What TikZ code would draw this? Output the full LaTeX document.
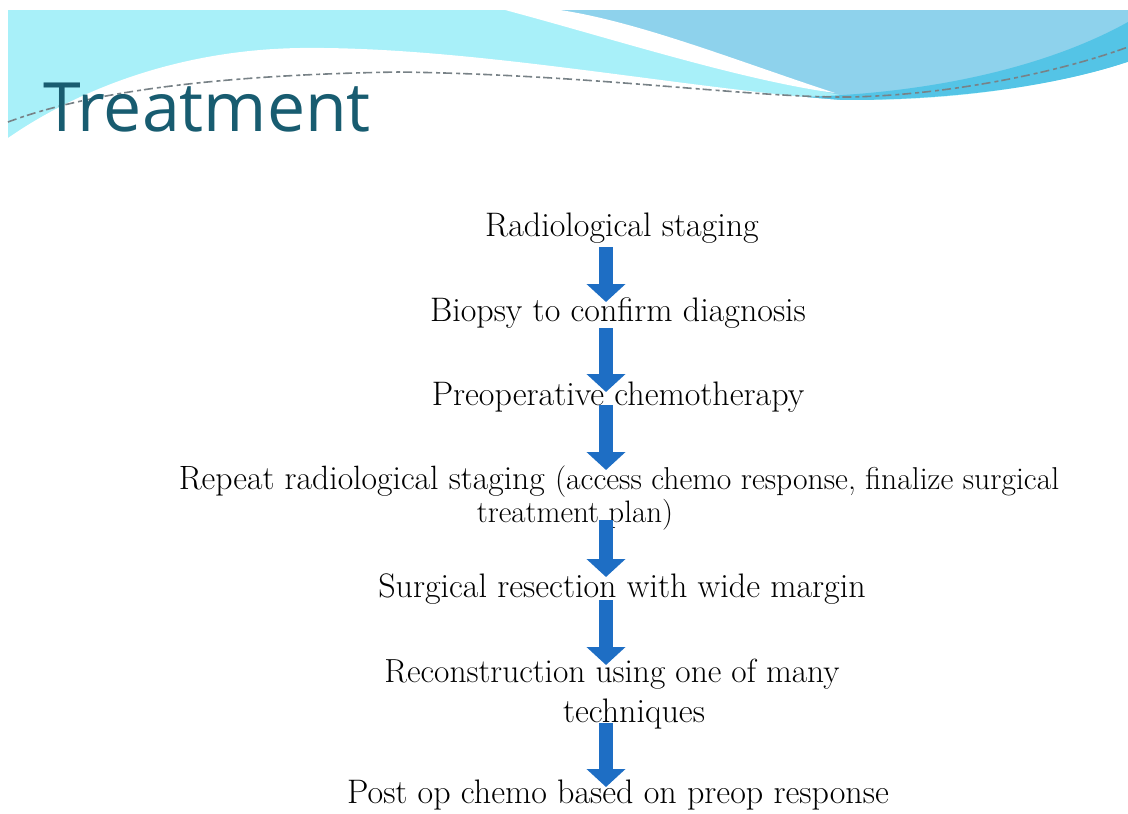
\documentclass[tikz,border=0pt]{standalone}
\usepackage{fontspec}
\newfontfamily\titlefont{Open Sans}
\usetikzlibrary{arrows.meta}
\definecolor{cyanlight}{RGB}{168,240,249}
\definecolor{skyblue}{RGB}{142,210,236}
\definecolor{swoosh}{RGB}{84,196,230}
\definecolor{titlecol}{RGB}{24,92,112}
\definecolor{arrowblue}{RGB}{30,110,196}
\definecolor{dashgray}{RGB}{120,130,135}
\tikzset{
  steptext/.style={anchor=base, inner sep=0pt, font=\fontsize{34}{40}\selectfont},
  blk/.style={draw=arrowblue, line width=14pt, -{Triangle[width=38pt,length=18pt]}},
}
\begin{document}
\begin{tikzpicture}[x=1pt,y=-1pt]
\useasboundingbox (0,0) rectangle (1128,814);
\fill[white] (0,0) rectangle (1128,814);
% header band
\fill[cyanlight] (8,10) rectangle (1128,145);
\fill[skyblue] (505,10) -- (1128,10) -- (1128,28)
  .. controls (1040,75) and (930,97) .. (850,97)
  .. controls (760,80) and (640,30) .. (505,10) -- cycle;
\fill[white] (505,10) .. controls (610,38) and (740,80) .. (835,93)
  .. controls (740,62) and (640,22) .. (560,10) -- cycle;
\fill[swoosh] (800,97) .. controls (950,93) and (1060,60) .. (1128,22) -- (1128,62)
  .. controls (1060,85) and (950,102) .. (820,100) -- cycle;
\fill[white] (8,138) .. controls (70,95) and (170,50) .. (300,48)
  .. controls (470,46) and (680,88) .. (840,100)
  .. controls (950,102) and (1060,85) .. (1128,62) -- (1128,150) -- (8,150) -- cycle;
\draw[dashgray, line width=1.6pt, dash pattern=on 9pt off 4pt on 4pt off 3pt]
  (8,122) .. controls (80,95) and (200,75) .. (400,72)
  .. controls (600,75) and (750,98) .. (850,97)
  .. controls (950,95) and (1060,72) .. (1128,47);
% title
\node[anchor=base west, inner sep=0pt, text=titlecol, font=\titlefont\fontsize{68}{80}\selectfont] (title) at (43,131) {Treatment};
% steps
\coordinate (axis) at (606,0);
\node[steptext] (a) at (622,236) {Radiological staging};
\node[steptext] (b) at (618,321) {Biopsy to confirm diagnosis};
\node[steptext] (c) at (618,405) {Preoperative chemotherapy};
\node[steptext, font=\fontsize{33.7}{40}\selectfont] (d1) at (619,489) {Repeat radiological staging {\fontsize{31.6}{38}\selectfont(access chemo response, finalize surgical}};
\node[steptext, font=\fontsize{31}{36}\selectfont] (d2) at (575,522) {treatment plan)};
\node[steptext] (e) at (622,597) {Surgical resection with wide margin};
\node[steptext, font=\fontsize{33.4}{40}\selectfont] (f1) at (612,682) {Reconstruction using one of many};
\node[steptext] (f2) at (634,722) {techniques};
\node[steptext] (g) at (618,803) {Post op chemo based on preop response};
% arrows
\draw[blk] ([yshift=-11pt]a.base -| axis) -- ([yshift=19pt]b.base -| axis);
\draw[blk] ([yshift=-7pt]b.base -| axis) -- ([yshift=13pt]c.base -| axis);
\draw[blk] ([yshift=0pt]c.base -| axis) -- ([yshift=19pt]d1.base -| axis);
\draw[blk] ([yshift=2pt]d2.base -| axis) -- ([yshift=20pt]e.base -| axis);
\draw[blk] ([yshift=-3pt]e.base -| axis) -- ([yshift=17pt]f1.base -| axis);
\draw[blk] ([yshift=-1pt]f2.base -| axis) -- ([yshift=16pt]g.base -| axis);
\end{tikzpicture}
\end{document}
